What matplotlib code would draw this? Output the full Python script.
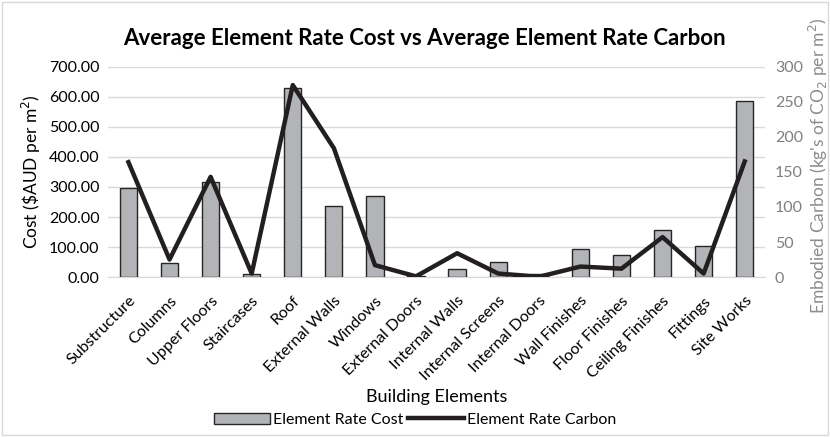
import numpy as np
import matplotlib.pyplot as plt
from matplotlib.patches import Rectangle

plt.rcParams['font.family'] = ['Lato', 'DejaVu Sans']

# Data
elements = ['Substructure', 'Columns', 'Upper Floors', 'Staircases', 'Roof',
            'External Walls', 'Windows', 'External Doors', 'Internal Walls',
            'Internal Screens', 'Internal Doors', 'Wall Finishes',
            'Floor Finishes', 'Ceiling Finishes', 'Fittings', 'Site Works']
rate_cost = [298, 47, 317, 11, 631, 237, 270, 5, 27, 50, 11, 94, 72, 157, 104, 587]
rate_carbon = [164, 25, 143, 5, 274, 184, 17, 1, 34, 5, 0.5, 15, 12, 57, 5, 165]

fig = plt.figure(figsize=(8.3, 4.37), dpi=100)
ax = fig.add_axes([0.130, 0.366, 0.792, 0.481])
ax2 = ax.twinx()

x = np.arange(len(elements))
bars = ax.bar(x, rate_cost, width=0.42, color='#b3b4b7', edgecolor='#262626',
              linewidth=1.0, label='Element Rate Cost', zorder=3)
line, = ax2.plot(x, rate_carbon, color='#231f20', linewidth=3.2,
                 label='Element Rate Carbon', zorder=4)

ax.set_xlim(-0.5, len(elements) - 0.5)
ax.set_ylim(0, 700)
ax.set_yticks(np.arange(0, 701, 100))
ax.set_yticklabels(['%.2f' % v for v in np.arange(0, 701, 100)], fontsize=11.5)
ax.yaxis.grid(True, color='#d9d9d9', linewidth=1.0, zorder=0)
ax.set_axisbelow(True)
ax.set_xticks(x)
ax.set_xticklabels(elements, rotation=45, ha='right', rotation_mode='anchor',
                   fontsize=11.5)
ax.tick_params(axis='x', length=0, pad=12)
ax.tick_params(axis='y', length=0, pad=6)
ax.set_ylabel('Cost (\\$AUD per m$^2$)', fontsize=12.5)
ax.set_xlabel('Building Elements', fontsize=13, labelpad=4)

ax2.set_ylim(0, 300)
ax2.set_yticks(np.arange(0, 301, 50))
ax2.tick_params(axis='y', length=0, labelsize=11.5, labelcolor='#7f7f7f', pad=7)
ax2.set_ylabel("Embodied Carbon (kg's of CO$_2$ per m$^2$)", fontsize=12.5,
               color='#8c8c8c')
ax2.yaxis.set_label_coords(1.063, 0.53)

for a in (ax, ax2):
    for s in a.spines.values():
        s.set_visible(False)
ax.spines['bottom'].set_visible(True)
ax.spines['bottom'].set_color('#d9d9d9')

fig.suptitle('Average Element Rate Cost vs Average Element Rate Carbon',
             fontsize=16, fontweight='bold', x=0.511, y=0.935)

fig.legend([bars, line], ['Element Rate Cost', 'Element Rate Carbon'],
           loc='lower center', bbox_to_anchor=(0.5, -0.01), ncol=2,
           frameon=False, fontsize=11.5, handlelength=3.5, columnspacing=0.3,
           handletextpad=0.2)

fig.patches.append(Rectangle((0.003, 0.005), 0.994, 0.99, transform=fig.transFigure,
                             fill=False, edgecolor='#d9d9d9', linewidth=1))

fig.savefig('out.png', dpi=100)
plt.close()
